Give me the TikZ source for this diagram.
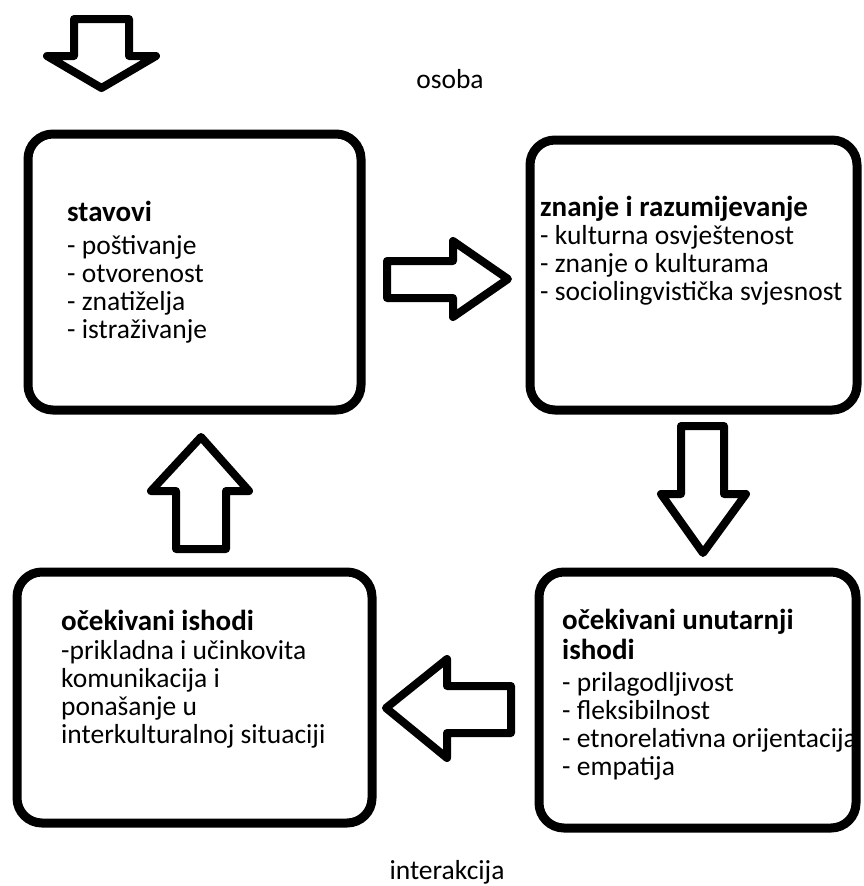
\documentclass[tikz,border=0pt]{standalone}
\usepackage{fontspec}
\setmainfont{Carlito}
\usepackage{tikz}
\usetikzlibrary{calc}

\newcommand{\bodysize}{\fontsize{27.5}{27.7}\selectfont}
\newcommand{\headsize}{\fontsize{29}{27.7}\selectfont\bfseries}

\begin{document}
\begin{tikzpicture}[x=1pt, y=1pt,
    box/.style={rectangle, draw, line width=9pt, rounded corners=25pt, outer sep=0pt},
    txt/.style={anchor=base west, align=left, inner sep=0pt, font=\bodysize},
    lbl/.style={anchor=base, inner sep=0pt, font=\bodysize},
    blockarrow/.style={draw, fill=white, line width=8pt, line join=round}]

    \useasboundingbox (0,0) rectangle (863,-886);

    % Boxes
    \node [box, minimum width=333pt, minimum height=276pt] (stavovi) at (194.5,-272) {};
    \node [box, minimum width=327pt, minimum height=270pt] (znanje) at (693.5,-275) {};
    \node [box, minimum width=317pt, minimum height=256pt] (unutarnji) at (697.5,-700) {};
    \node [box, minimum width=355pt, minimum height=251pt] (ishodi) at (194.5,-697.5) {};

    % Texts (anchored at the last line)
    \node [txt] (stavovi-txt) at ($(stavovi.north west)+(39,-204)$)
        {{\headsize stavovi}\\[5.3pt] - poštivanje\\ - otvorenost\\ - znatiželja\\ - istraživanje};
    \node [txt] (znanje-txt) at ($(znanje.north west)+(10,-160)$)
        {{\headsize znanje i razumijevanje}\\ - kulturna osvještenost\\ - znanje o kulturama\\ - sociolingvistička svjesnost};
    \node [txt] (unutarnji-txt) at ($(unutarnji.north west)+(23,-203)$)
        {{\headsize očekivani unutarnji}\\[2.3pt] {\headsize ishodi}\\[4.3pt] - prilagodljivost\\ - fleksibilnost\\ - etnorelativna orijentacija\\ - empatija};
    \node [txt] (ishodi-txt) at ($(ishodi.north west)+(44,-171)$)
        {{\headsize očekivani ishodi}\\[1.3pt] -prikladna i učinkovita\\ komunikacija i\\ ponašanje u\\ interkulturalnoj situaciji};

    \node [lbl] (osoba) at (450,-88) {osoba};
    \node [lbl] (interakcija) at (447,-879) {interakcija};

    % Arrows
    \draw [blockarrow] (74,-19) -- ++(55,0) -- ++(0,-37) -- ++(27,0) -- ++(-54.5,-32)
        -- ++(-54.5,32) -- ++(27,0) -- cycle;
    \draw [blockarrow] ($(stavovi.east)+(26,11)$) -- ++(66,0) -- ++(0,20) -- ++(55,-38)
        -- ++(-55,-38) -- ++(0,19) -- ++(-66,0) -- cycle;
    \draw [blockarrow] ($(znanje.south)+(-12.5,-16)$) -- ++(43,0) -- ++(0,-68) -- ++(22,0)
        -- ++(-43,-59) -- ++(-42,59) -- ++(20,0) -- cycle;
    \draw [blockarrow] ($(unutarnji.west)+(-28,14)$) -- ++(-64,0) -- ++(0,27) -- ++(-61,-49)
        -- ++(61,-50) -- ++(0,25) -- ++(64,0) -- cycle;
    \draw [blockarrow] ($(ishodi.north)+(-18.5,23)$) -- ++(0,58) -- ++(-25,0) -- ++(50,54)
        -- ++(48,-54) -- ++(-23,0) -- ++(0,-58) -- cycle;
\end{tikzpicture}
\end{document}
